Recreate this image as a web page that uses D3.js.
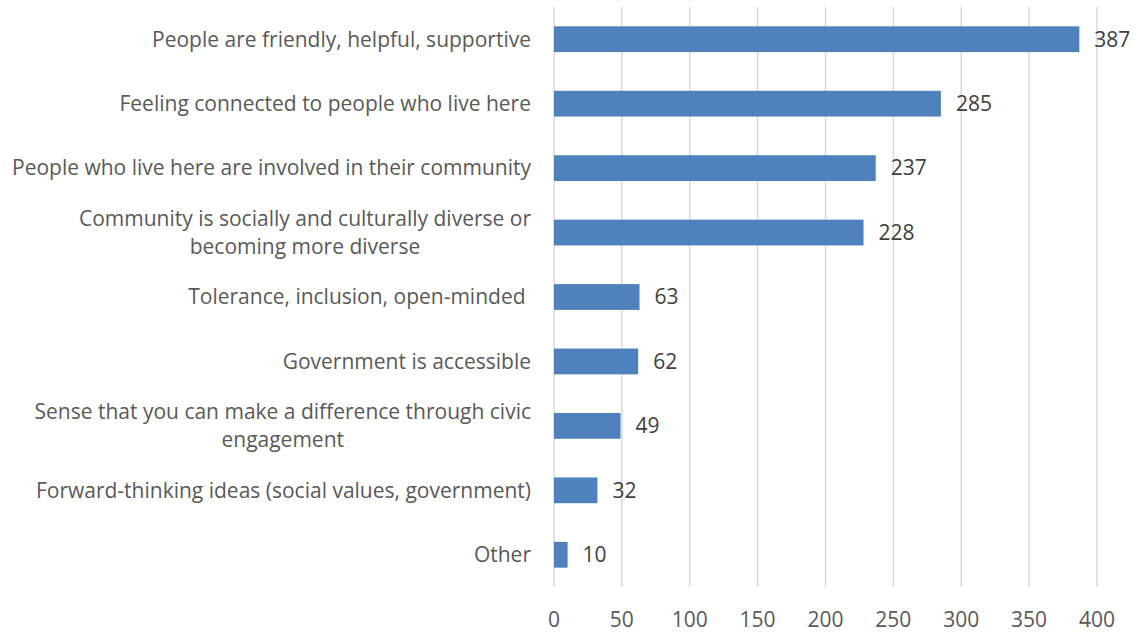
<!DOCTYPE html>
<html>
<head>
<meta charset="utf-8">
<script src="https://cdn.jsdelivr.net/npm/d3@7"></script>
<style>
  body { margin: 0; background: #fff; }
  svg { display: block; }
  text { font-family: "Open Sans", "Noto Sans", sans-serif; }
</style>
</head>
<body>
<svg id="chart" width="1147" height="633"></svg>
<script>
// Survey responses, listed top to bottom
const categories = [
  ["People are friendly, helpful, supportive"],
  ["Feeling connected to people who live here"],
  ["People who live here are involved in their community"],
  ["Community is socially and culturally diverse or", "becoming more diverse"],
  ["Tolerance, inclusion, open-minded "],
  ["Government is accessible"],
  ["Sense that you can make a difference through civic", "engagement"],
  ["Forward-thinking ideas (social values, government)"],
  ["Other"]
];
const counts = [387, 285, 237, 228, 63, 62, 49, 32, 10];
const xTicks = [0, 50, 100, 150, 200, 250, 300, 350, 400];

const svg = d3.select("#chart");
const margin = { top: 7, right: 50, bottom: 46, left: 554 };
const width = 1147 - margin.left - margin.right;
const height = 633 - margin.top - margin.bottom;
const fontSize = 21;

const g = svg.append("g").attr("transform", `translate(${margin.left},${margin.top})`);

const x = d3.scaleLinear().domain([0, 400]).range([0, 543]);
const y = d3.scaleBand()
  .domain(d3.range(categories.length))
  .range([0, height])
  .paddingInner(0.6)
  .paddingOuter(0.3);

// vertical gridlines
g.selectAll("line.grid")
  .data(xTicks)
  .join("line")
  .attr("class", "grid")
  .attr("x1", d => x(d)).attr("x2", d => x(d))
  .attr("y1", 0).attr("y2", height)
  .attr("stroke", "#d9d9d9")
  .attr("stroke-width", 1.5);

// bars
g.selectAll("rect.bar")
  .data(counts)
  .join("rect")
  .attr("class", "bar")
  .attr("x", x(0))
  .attr("y", (d, i) => y(i))
  .attr("width", d => x(d) - x(0))
  .attr("height", y.bandwidth())
  .attr("fill", "#4f81bd");

// value labels
g.selectAll("text.val")
  .data(counts)
  .join("text")
  .attr("class", "val")
  .attr("x", d => x(d) + 15)
  .attr("y", (d, i) => y(i) + y.bandwidth() / 2)
  .attr("dy", "0.35em")
  .attr("fill", "#404040")
  .attr("font-size", fontSize)
  .text(d => d);

// category labels: each block is centred on itself and right-aligned to the axis
const lineH = 28;
const labels = g.selectAll("text.cat")
  .data(categories)
  .join("text")
  .attr("class", "cat")
  .attr("text-anchor", "middle")
  .attr("fill", "#595959")
  .attr("font-size", fontSize)
  .style("white-space", "pre");

labels.each(function(lines, i) {
  const t = d3.select(this);
  const cy = y(i) + y.bandwidth() / 2;
  lines.forEach((ln, k) => {
    t.append("tspan")
      .attr("x", 0)
      .attr("y", cy + (k - (lines.length - 1) / 2) * lineH)
      .attr("dy", "0.35em")
      .text(ln);
  });
  let w = 0;
  t.selectAll("tspan").each(function() { w = Math.max(w, this.getComputedTextLength()); });
  t.selectAll("tspan").attr("x", -23 - w / 2);
});

// x axis tick labels
g.selectAll("text.tick")
  .data(xTicks)
  .join("text")
  .attr("class", "tick")
  .attr("x", d => x(d))
  .attr("y", height + 33)
  .attr("dy", "0.35em")
  .attr("text-anchor", "middle")
  .attr("fill", "#595959")
  .attr("font-size", fontSize)
  .text(d => d);
</script>
</body>
</html>
